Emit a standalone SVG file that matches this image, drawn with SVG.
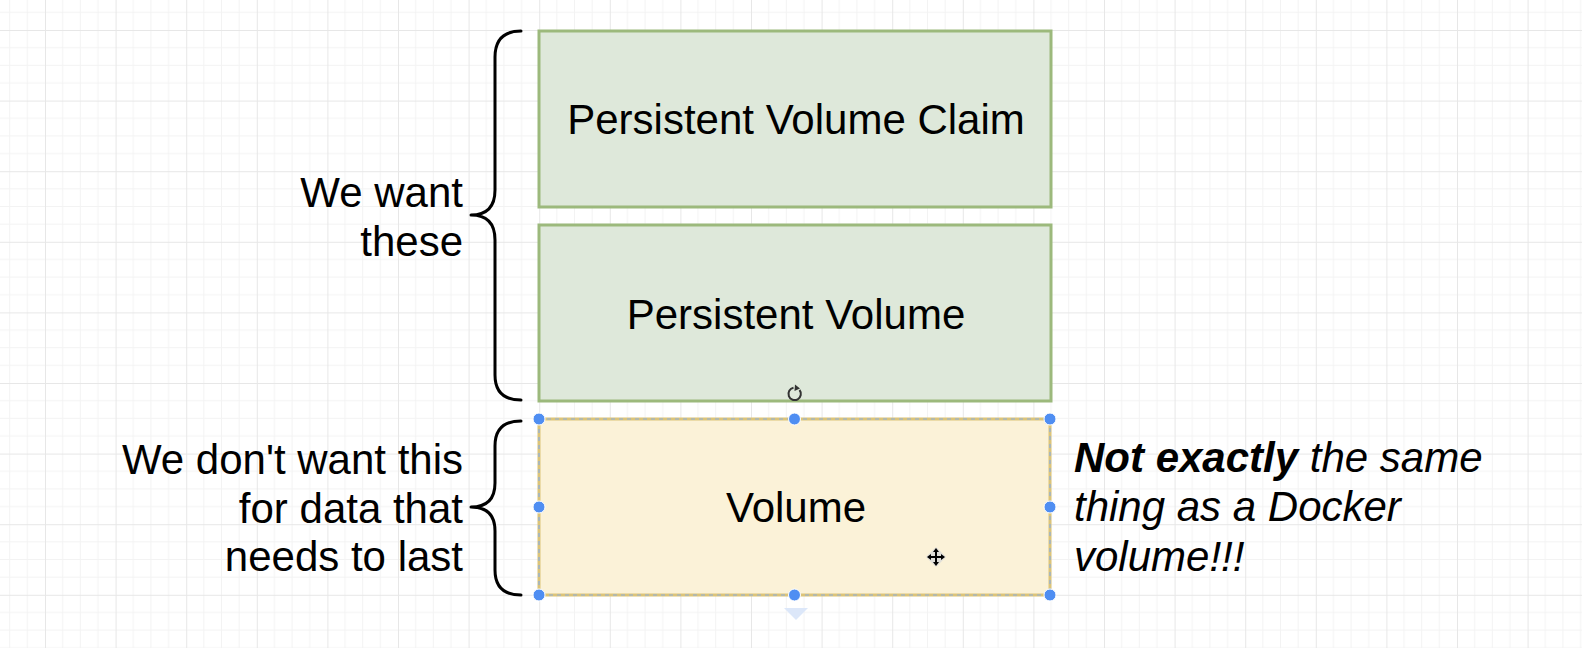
<svg xmlns="http://www.w3.org/2000/svg" width="1582" height="648" viewBox="0 0 1582 648">
<style>
.t{font-family:"Liberation Sans",Arial,Helvetica,sans-serif;font-size:42px;fill:#000}
.green{fill:#dee8da;stroke:#9cb97c;stroke-width:3}
.brace{fill:none;stroke:#000;stroke-width:3;stroke-linecap:round;stroke-linejoin:round}
.handle{fill:#4f8ef2;stroke:#ffffff;stroke-width:1}
</style>
<defs>
<pattern id="grid" patternUnits="userSpaceOnUse" x="45" y="30" width="70.6" height="70.6">
<path d="M0 17.65H70.6M0 35.3H70.6M0 52.95H70.6M17.65 0V70.6M35.3 0V70.6M52.95 0V70.6" stroke="#f3f3f3" stroke-width="1" fill="none"/>
<path d="M0 0.5H70.6M0.5 0V70.6" stroke="#e7e7e7" stroke-width="1" fill="none"/>
</pattern>
</defs>
<rect width="1582" height="648" fill="#ffffff"/>
<rect width="1582" height="648" fill="url(#grid)"/>

<g id="pvc">
<rect class="green" x="539" y="31" width="512" height="176"/>
<text class="t" x="796" y="134" text-anchor="middle">Persistent Volume Claim</text>
</g>
<g id="pv">
<rect class="green" x="539" y="225" width="512" height="176"/>
<text class="t" x="796" y="329" text-anchor="middle">Persistent Volume</text>
</g>
<g id="volume">
<rect x="539" y="419" width="511" height="176" fill="#fbf2d8" stroke="#dcc479" stroke-width="3"/>
<rect x="539" y="419" width="511" height="176" fill="none" stroke="#8aaee0" stroke-width="1.2" stroke-dasharray="4 4"/>
<text class="t" x="796" y="522" text-anchor="middle">Volume</text>
</g>

<g id="want-label">
<path class="brace" d="M521,31 Q495,31 495,57 L495,190 Q495,215 471,215 Q495,215 495,240 L495,375 Q495,400 521,400"/>
<text class="t" x="463" y="207" text-anchor="end">We want</text>
<text class="t" x="463" y="256" text-anchor="end">these</text>
</g>
<g id="dont-want-label">
<path class="brace" d="M521,421 Q495,421 495,446 L495,483 Q495,507 471,507 Q495,507 495,531 L495,570 Q495,595 521,595"/>
<text class="t" x="463" y="474" text-anchor="end">We don't want this</text>
<text class="t" x="463" y="523" text-anchor="end">for data that</text>
<text class="t" x="463" y="571" text-anchor="end">needs to last</text>
</g>
<g id="note">
<text class="t" x="1074" y="472" font-style="italic"><tspan font-weight="bold">Not exactly</tspan> the same</text>
<text class="t" x="1074" y="521" font-style="italic">thing as a Docker</text>
<text class="t" x="1074" y="571" font-style="italic">volume!!!</text>
</g>

<g id="connectors"></g>

<g id="selection">
<circle class="handle" cx="539" cy="419" r="6"/>
<circle class="handle" cx="794.5" cy="419" r="6"/>
<circle class="handle" cx="1050" cy="419" r="6"/>
<circle class="handle" cx="539" cy="507" r="6"/>
<circle class="handle" cx="1050" cy="507" r="6"/>
<circle class="handle" cx="539" cy="595" r="6"/>
<circle class="handle" cx="794.5" cy="595" r="6"/>
<circle class="handle" cx="1050" cy="595" r="6"/>
<path d="M784 608 L808 608 L796 620 Z" fill="#dce7f9"/>
<path d="M799.5 390 A6.2 6.2 0 1 1 793.5 387.8" fill="none" stroke="#333" stroke-width="2"/>
<path d="M795 384.5 L800 388.5 L794.5 391 Z" fill="#333"/>
<g transform="translate(936,557)">
<path d="M0 -10 L10 0 L0 10 L-10 0 Z" fill="#d8d8d8" opacity="0.8"/>
<path d="M0 -7 V7 M-7 0 H7" stroke="#000" stroke-width="2"/>
<path d="M0 -9 L-3 -5 H3 Z M0 9 L-3 5 H3 Z M-9 0 L-5 -3 V3 Z M9 0 L5 -3 V3 Z" fill="#000"/>
</g>
</g>
</svg>
